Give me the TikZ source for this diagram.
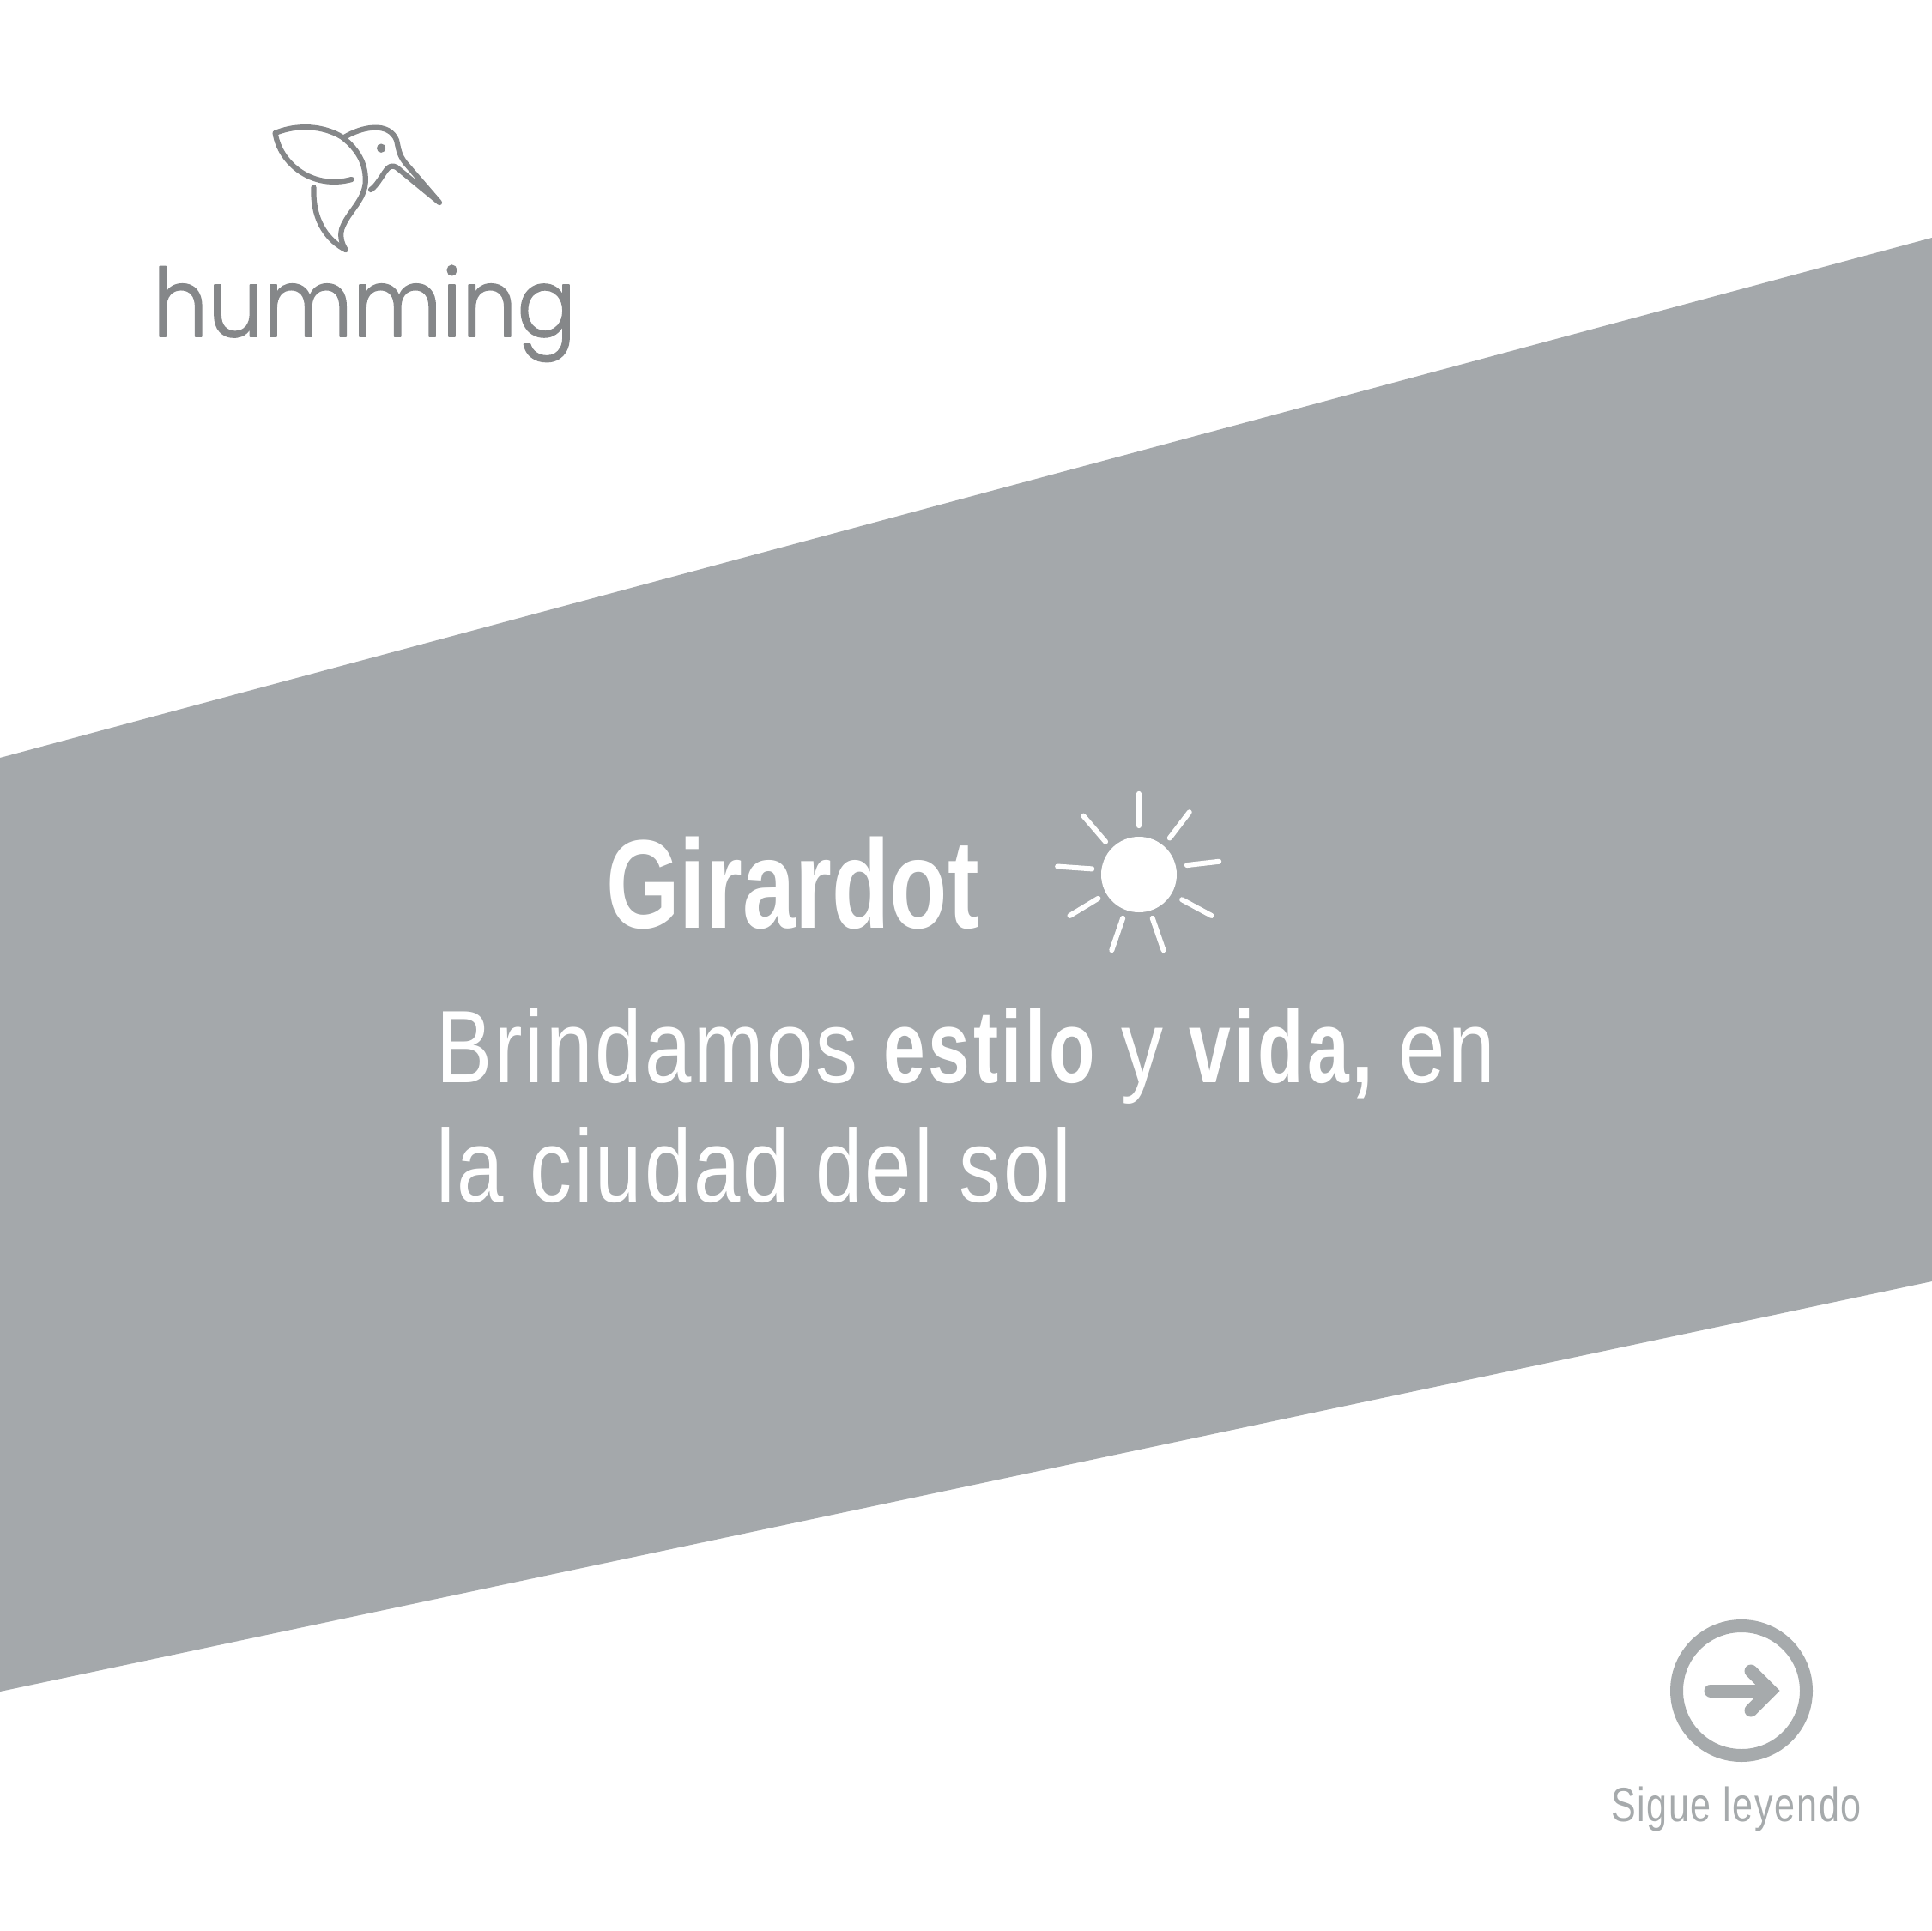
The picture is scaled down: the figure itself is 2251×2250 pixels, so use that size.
\documentclass[tikz,border=0pt]{standalone}
\usepackage{fontspec}
\setmainfont{Liberation Sans}
\newfontfamily\narrowfont[FakeStretch=0.815,LetterSpace=2.5,BoldFeatures={FakeStretch=0.73,LetterSpace=3}]{Liberation Sans}
\newfontfamily\smallfont[FakeStretch=0.77,LetterSpace=3]{Liberation Sans}
\newfontfamily\titlefont[FakeStretch=0.75]{Liberation Sans}
\newfontfamily\logofont{Poppins Light}
\definecolor{bandgrey}{HTML}{A4A8AB}
\definecolor{logogrey}{HTML}{858789}
\definecolor{nextgrey}{HTML}{A6AAAC}
\tikzset{
  pagetext/.style={anchor=base west,inner sep=0pt,outer sep=0pt,text=white},
  ray/.style={draw=white,line width=3pt,line cap=round},
  birdline/.style={draw=logogrey,line width=3.1pt,line cap=round,line join=round},
}
\newcommand{\roundstroke}[1]{\special{pdf:code 1 J 1 j 2 Tr 0.9 w 0.522 0.529 0.537 RG}#1\special{pdf:code 0 Tr}}
\begin{document}
\begin{tikzpicture}[x=0.5pt,y=-0.5pt]
\useasboundingbox (0,0) rectangle (2251,2250);
\fill[white] (0,0) rectangle (2251,2250);
\fill[bandgrey] (0,883) -- (2251,277) -- (2251,1493) -- (0,1971) -- cycle;
% logo bird
\begin{scope}[shift={(150,110)},x=0.1724pt,y=-0.1667pt]
\draw[birdline] (495,135) .. controls (590,95) and (680,120) .. (725,152)
  .. controls (775,195) and (800,240) .. (800,300)
  .. controls (800,370) and (740,410) .. (720,470)
  .. controls (712,500) and (722,525) .. (733,543)
  .. controls (680,515) and (620,450) .. (625,325);
\draw[birdline] (495,135) .. controls (510,240) and (620,335) .. (753,297);
\draw[birdline] (725,152) .. controls (790,110) and (880,95) .. (905,160)
  .. controls (912,190) and (912,210) .. (935,240) -- (1050,378)
  -- (905,255) .. controls (880,240) and (870,265) .. (850,295)
  .. controls (840,310) and (830,325) .. (818,333);
\fill[logogrey] (853,188) circle (2.6pt);
\end{scope}
\node[pagetext,text=logogrey,font=\logofont\fontsize{55}{55}\selectfont,xscale=0.925] (wordmark) at (178,392) {\roundstroke{humming}};
% headings
\node[pagetext,font=\titlefont\fontsize{73.5}{73.5}\selectfont\bfseries] (title) at (706,1081) {Girardot};
\node[pagetext,font=\narrowfont\fontsize{60}{60}\selectfont] (lineone) at (508,1261) {Brindamos {\bfseries estilo} y {\bfseries vida,} en};
\node[pagetext,font=\narrowfont\fontsize{60}{60}\selectfont] (linetwo) at (508,1400) {la ciudad del sol};
% sun
\fill[white] (1327,1019) circle (22pt);
\begin{scope}[x=0.718pt,y=-0.718pt]
\draw[ray] (924,644) -- (924,670);
\draw[ray] (965,659) -- (949,680);
\draw[ray] (989,699) -- (963,702);
\draw[ray] (983,743) -- (959,730);
\draw[ray] (944,771) -- (935,745);
\draw[ray] (902,771) -- (911,745);
\draw[ray] (868,743) -- (891,729);
\draw[ray] (858,703) -- (886,705);
\draw[ray] (879,662) -- (897,683);
\end{scope}
% next
\draw[nextgrey,line width=7.5pt] (2029,1970) circle (37.75pt);
\draw[nextgrey,line width=7.5pt,line cap=round] (1993,1970) -- (2060,1970);
\draw[nextgrey,line width=7.5pt,line cap=round,line join=miter] (2040,1947) -- (2063,1970) -- (2040,1993);
\node[pagetext,text=nextgrey,font=\smallfont\fontsize{28}{28}\selectfont] (nextlabel) at (1877,2122) {Sigue leyendo};
\end{tikzpicture}
\end{document}
